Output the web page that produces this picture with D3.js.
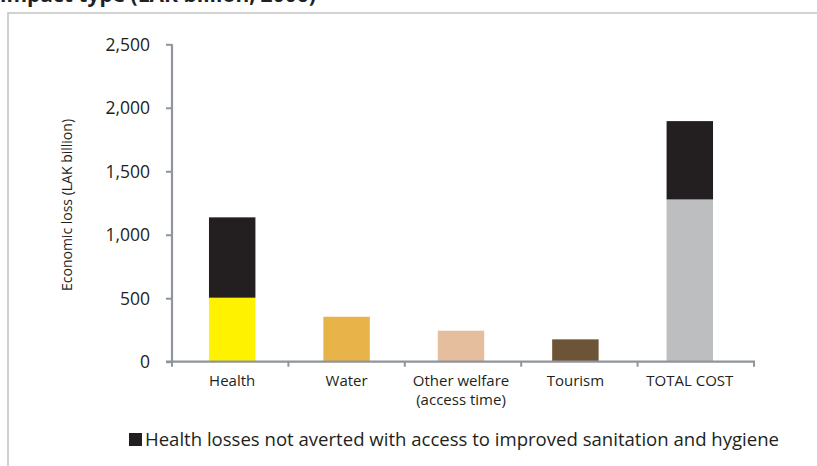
<!DOCTYPE html>
<html><head><meta charset="utf-8">
<script src="https://cdn.jsdelivr.net/npm/d3@7"></script>
<style>body{margin:0;background:#fff}svg{display:block}</style>
</head><body>
<svg id="c" width="817" height="466"></svg>
<script>
const categories = ["Health", "Water", "Other welfare|(access time)", "Tourism", "TOTAL COST"];
const baseValues = [504, 354, 244, 176, 1278];
const notAverted = [633, 0, 0, 0, 617];
const baseColors = ["#fff200", "#e8b44a", "#e5be9e", "#6e5436", "#bcbec0"];
const blackColor = "#231f20";
const yTicks = [0, 500, 1000, 1500, 2000, 2500];
const legendLabel = "Health losses not averted with access to improved sanitation and hygiene";
const titleText = "impact type (LAK billion, 2006)";
const yTitle = "Economic loss (LAK billion)";

const svg = d3.select("#c");
const font = "'Open Sans', sans-serif";
const axisCol = "#8f959b";

// frame
svg.append("rect").attr("x", 8).attr("y", 13).attr("width", 900).attr("height", 600)
  .attr("fill", "none").attr("stroke", "#c3c3c3").attr("stroke-width", 1.5);
// cut-off title (cut at the top edge as in the reference)
svg.append("text").attr("x", 0).attr("y", 1.5).attr("font-family", font).attr("font-weight", "bold")
  .attr("font-size", 21).attr("fill", "#231f20").text(titleText);

const y = d3.scaleLinear().domain([0, 2500]).range([361.7, 44.3]);
const x = d3.scaleBand().domain(categories).range([175, 747]).paddingInner(0.594).paddingOuter(0.297);
const xAxisScale = d3.scaleBand().domain(categories).range([172, 754]);

// bars
const g = svg.append("g");
categories.forEach((c, i) => {
  g.append("rect").attr("x", x(c)).attr("width", x.bandwidth())
    .attr("y", y(baseValues[i])).attr("height", y(0) - y(baseValues[i])).attr("fill", baseColors[i]);
  if (notAverted[i] > 0) {
    g.append("rect").attr("x", x(c)).attr("width", x.bandwidth())
      .attr("y", y(baseValues[i] + notAverted[i])).attr("height", y(baseValues[i]) - y(baseValues[i] + notAverted[i]))
      .attr("fill", blackColor);
  }
});

// y axis
const ya = svg.append("g").attr("transform", "translate(172,0)")
  .call(d3.axisLeft(y).tickValues(yTicks).tickSize(6).tickPadding(16).tickFormat(d3.format(",")));
ya.select(".domain").attr("stroke", axisCol).attr("stroke-width", 2.2).attr("d", `M0,${y(2500)}V${y(0)}`);
ya.selectAll(".tick line").attr("stroke", axisCol).attr("stroke-width", 2);
ya.selectAll(".tick text").attr("font-family", font).attr("font-size", 17.5).attr("fill", "#231f20")
  .attr("dy", "0.33em").attr("textLength", function(){ return null; });

// x axis
const xa = svg.append("g").attr("transform", `translate(0,${y(0)})`);
xa.append("line").attr("x1", 166).attr("x2", xAxisScale.range()[1] + 1).attr("y1", 0).attr("y2", 0)
  .attr("stroke", axisCol).attr("stroke-width", 2.2);
const bounds = categories.map(c => xAxisScale(c)).concat([xAxisScale.range()[1]]);
xa.selectAll("line.t").data(bounds).enter().append("line").attr("class", "t")
  .attr("x1", d => d).attr("x2", d => d).attr("y1", 0).attr("y2", 5)
  .attr("stroke", axisCol).attr("stroke-width", 2);
const lbl = xa.selectAll("text.l").data(categories).enter().append("text").attr("class", "l")
  .attr("x", d => x(d) + x.bandwidth() / 2).attr("y", 24.5)
  .attr("text-anchor", "middle").attr("font-family", font).attr("font-size", 15).attr("fill", "#231f20");
lbl.each(function (d) {
  const parts = d.split("|");
  const t = d3.select(this);
  parts.forEach((p, k) => t.append("tspan").attr("x", x(d) + x.bandwidth() / 2).attr("dy", k === 0 ? 0 : 19).text(p));
});

// y title
svg.append("text").attr("transform", "translate(72,205) rotate(-90)").attr("text-anchor", "middle")
  .attr("font-family", font).attr("font-size", 14).attr("fill", "#231f20").text(yTitle);

// legend
svg.append("rect").attr("x", 129).attr("y", 433).attr("width", 13).attr("height", 13).attr("fill", blackColor);
svg.append("text").attr("x", 145).attr("y", 446).attr("font-family", font).attr("font-size", 18)
  .attr("fill", "#231f20").attr("textLength", 634).attr("lengthAdjust", "spacingAndGlyphs").text(legendLabel);
</script>
</body></html>
